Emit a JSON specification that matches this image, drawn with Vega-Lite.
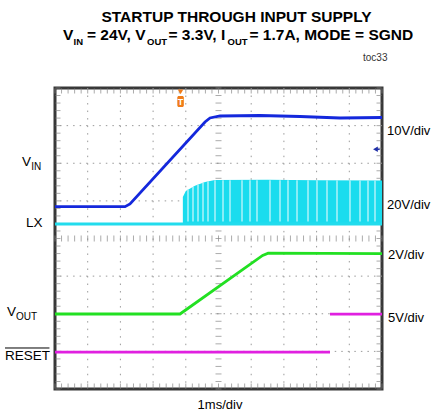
{
 "$schema": "https://vega.github.io/schema/vega-lite/v6.json",
 "width": 327, "height": 301,
 "autosize": {"type": "none"},
 "padding": {"left": 55, "top": 88, "right": 49, "bottom": 29},
 "background": "white",
 "config": {"view": {"stroke": "#383838", "strokeWidth": 3}, "axis": {"disable": true}, "font": "Liberation Sans"},
 "datasets": {
  "gx": [{"v":1},{"v":2},{"v":3},{"v":4},{"v":6},{"v":7},{"v":8},{"v":9}],
  "gy": [{"v":1},{"v":2},{"v":3},{"v":5},{"v":6},{"v":7}],
  "xt": [{"p":0},{"p":0.2},{"p":0.4},{"p":0.6},{"p":0.8},{"p":1},{"p":1.2},{"p":1.4},{"p":1.6},{"p":1.8},{"p":2},{"p":2.2},{"p":2.4},{"p":2.6},{"p":2.8},{"p":3},{"p":3.2},{"p":3.4},{"p":3.6},{"p":3.8},{"p":4},{"p":4.2},{"p":4.4},{"p":4.6},{"p":4.8},{"p":5},{"p":5.2},{"p":5.4},{"p":5.6},{"p":5.8},{"p":6},{"p":6.2},{"p":6.4},{"p":6.6},{"p":6.8},{"p":7},{"p":7.2},{"p":7.4},{"p":7.6},{"p":7.8},{"p":8},{"p":8.2},{"p":8.4},{"p":8.6},{"p":8.8},{"p":9},{"p":9.2},{"p":9.4},{"p":9.6},{"p":9.8},{"p":10}],
  "yt": [{"p":0},{"p":0.2},{"p":0.4},{"p":0.6},{"p":0.8},{"p":1},{"p":1.2},{"p":1.4},{"p":1.6},{"p":1.8},{"p":2},{"p":2.2},{"p":2.4},{"p":2.6},{"p":2.8},{"p":3},{"p":3.2},{"p":3.4},{"p":3.6},{"p":3.8},{"p":4},{"p":4.2},{"p":4.4},{"p":4.6},{"p":4.8},{"p":5},{"p":5.2},{"p":5.4},{"p":5.6},{"p":5.8},{"p":6},{"p":6.2},{"p":6.4},{"p":6.6},{"p":6.8},{"p":7},{"p":7.2},{"p":7.4},{"p":7.6},{"p":7.8},{"p":8}],
  "env": [{"x":3.91,"y":5.10},{"x":4.0,"y":5.26},{"x":4.28,"y":5.40},{"x":4.59,"y":5.50},{"x":4.89,"y":5.555},{"x":6.5,"y":5.56},{"x":8.0,"y":5.55},{"x":10,"y":5.54}],
  "stripes": [{"x":4.067,"y":5.30},{"x":4.220,"y":5.37},{"x":4.373,"y":5.43},{"x":4.526,"y":5.48},{"x":4.679,"y":5.52},{"x":4.893,"y":5.55},{"x":5.138,"y":5.55},{"x":5.352,"y":5.55},{"x":5.719,"y":5.55},{"x":5.963,"y":5.55},{"x":6.177,"y":5.55},{"x":6.575,"y":5.55},{"x":6.881,"y":5.55},{"x":7.125,"y":5.55},{"x":7.401,"y":5.55},{"x":7.737,"y":5.55},{"x":8.012,"y":5.55},{"x":8.318,"y":5.55},{"x":8.624,"y":5.55},{"x":9.021,"y":5.55},{"x":9.327,"y":5.55},{"x":9.572,"y":5.55},{"x":9.786,"y":5.55}],
  "tr": [
   {"ch":"VIN","x":0,"y":4.845},{"ch":"VIN","x":2.141,"y":4.845},{"ch":"VIN","x":2.294,"y":4.917},{"ch":"VIN","x":4.587,"y":7.096},{"ch":"VIN","x":4.740,"y":7.203},{"ch":"VIN","x":5.046,"y":7.256},{"ch":"VIN","x":6.269,"y":7.269},{"ch":"VIN","x":7.492,"y":7.243},{"ch":"VIN","x":8.716,"y":7.203},{"ch":"VIN","x":10,"y":7.216},
   {"ch":"LX","x":0,"y":4.385},{"ch":"LX","x":10,"y":4.385},
   {"ch":"VOUT","x":0,"y":1.993},{"ch":"VOUT","x":3.823,"y":1.993},{"ch":"VOUT","x":6.35,"y":3.55},{"ch":"VOUT","x":6.52,"y":3.61},{"ch":"VOUT","x":10,"y":3.60},
   {"ch":"RLO","x":0,"y":0.98},{"ch":"RLO","x":8.41,"y":0.98},
   {"ch":"RHI","x":8.41,"y":1.99},{"ch":"RHI","x":10,"y":1.99}
  ]
 },
 "layer": [
  {"data": {"name": "gx"}, "mark": {"type": "rule", "color": "#9a9a9a", "strokeDash": [1.5, 6.02], "strokeWidth": 1},
   "encoding": {"x": {"field": "v", "type": "quantitative", "scale": {"domain": [0, 10], "nice": false, "zero": false}, "axis": null}}},
  {"data": {"name": "gy"}, "mark": {"type": "rule", "color": "#9a9a9a", "strokeDash": [1.5, 5.04], "strokeWidth": 1},
   "encoding": {"y": {"field": "v", "type": "quantitative", "scale": {"domain": [0, 8], "nice": false, "zero": false}, "axis": null}}},
  {"mark": {"type": "rule", "color": "#8a8a8a", "strokeDash": [3, 3], "strokeWidth": 1},
   "encoding": {"x": {"datum": 5, "type": "quantitative"}}},
  {"mark": {"type": "rule", "color": "#8a8a8a", "strokeDash": [3, 3], "strokeWidth": 1},
   "encoding": {"y": {"datum": 4, "type": "quantitative"}}},
  {"data": {"name": "xt"}, "mark": {"type": "tick", "orient": "vertical", "size": 6, "thickness": 1, "color": "#888"},
   "encoding": {"x": {"field": "p", "type": "quantitative"}, "y": {"datum": 4, "type": "quantitative"}}},
  {"data": {"name": "xt"}, "mark": {"type": "tick", "orient": "vertical", "size": 5, "thickness": 1, "color": "#888", "yOffset": 3},
   "encoding": {"x": {"field": "p", "type": "quantitative"}, "y": {"datum": 8, "type": "quantitative"}}},
  {"data": {"name": "xt"}, "mark": {"type": "tick", "orient": "vertical", "size": 5, "thickness": 1, "color": "#888", "yOffset": -3},
   "encoding": {"x": {"field": "p", "type": "quantitative"}, "y": {"datum": 0, "type": "quantitative"}}},
  {"data": {"name": "yt"}, "mark": {"type": "tick", "orient": "horizontal", "size": 6, "thickness": 1, "color": "#888"},
   "encoding": {"y": {"field": "p", "type": "quantitative"}, "x": {"datum": 5, "type": "quantitative"}}},
  {"data": {"name": "yt"}, "mark": {"type": "tick", "orient": "horizontal", "size": 5, "thickness": 1, "color": "#888", "xOffset": 3},
   "encoding": {"y": {"field": "p", "type": "quantitative"}, "x": {"datum": 0, "type": "quantitative"}}},
  {"data": {"name": "yt"}, "mark": {"type": "tick", "orient": "horizontal", "size": 5, "thickness": 1, "color": "#888", "xOffset": -3},
   "encoding": {"y": {"field": "p", "type": "quantitative"}, "x": {"datum": 10, "type": "quantitative"}}},
  {"data": {"name": "env"}, "mark": {"type": "area", "color": "#1adcee", "opacity": 1},
   "encoding": {"x": {"field": "x", "type": "quantitative"}, "y": {"field": "y", "type": "quantitative"}, "y2": {"datum": 4.36}}},
  {"data": {"name": "stripes"}, "mark": {"type": "rule", "color": "#a6f1f8", "strokeWidth": 1.6},
   "encoding": {"x": {"field": "x", "type": "quantitative"}, "y": {"field": "y", "type": "quantitative"}, "y2": {"datum": 4.45}}},
  {"data": {"name": "tr"}, "mark": {"type": "line", "strokeWidth": 2.8, "interpolate": "linear"},
   "encoding": {"x": {"field": "x", "type": "quantitative"}, "y": {"field": "y", "type": "quantitative"},
    "color": {"field": "ch", "type": "nominal", "scale": {"domain": ["VIN", "LX", "VOUT", "RLO", "RHI"], "range": ["#1428dc", "#22dced", "#22e022", "#e020e0", "#e020e0"]}, "legend": null}}},
  {"mark": {"type": "rule", "color": "#f070f0", "strokeWidth": 1},
   "encoding": {"x": {"datum": 8.41, "type": "quantitative"}, "y": {"datum": 0.98, "type": "quantitative"}, "y2": {"datum": 1.99}}},
  {"data": {"values": [{"x": 3.74, "x2": 3.94, "y": 7.495, "y2": 7.787}]},
   "mark": {"type": "rect", "color": "#f07d1a", "cornerRadius": 1.5},
   "encoding": {"x": {"field": "x", "type": "quantitative"}, "x2": {"field": "x2"}, "y": {"field": "y", "type": "quantitative"}, "y2": {"field": "y2"}}},
  {"data": {"values": [{"x": 3.84, "y": 7.9}]},
   "mark": {"type": "point", "shape": "triangle-down", "filled": true, "size": 30, "color": "#f07d1a", "opacity": 1},
   "encoding": {"x": {"field": "x", "type": "quantitative"}, "y": {"field": "y", "type": "quantitative"}}},
  {"data": {"values": [{"x": 3.84, "y": 7.64, "t": "T"}]},
   "mark": {"type": "text", "color": "white", "fontSize": 9, "fontWeight": "bold", "baseline": "middle", "align": "center"},
   "encoding": {"x": {"field": "x", "type": "quantitative"}, "y": {"field": "y", "type": "quantitative"}, "text": {"field": "t"}}},
  {"data": {"values": [{"x": 9.8, "y": 6.37}]},
   "mark": {"type": "point", "shape": "triangle-left", "filled": true, "size": 30, "color": "#2030a8", "opacity": 1},
   "encoding": {"x": {"field": "x", "type": "quantitative"}, "y": {"field": "y", "type": "quantitative"}}},
  {"data": {"values": [{"x": 9.8, "x2": 9.93, "y": 6.37}]},
   "mark": {"type": "rule", "color": "#2030a8", "strokeWidth": 1.5},
   "encoding": {"x": {"field": "x", "type": "quantitative"}, "x2": {"field": "x2"}, "y": {"field": "y", "type": "quantitative"}}},
  {"data": {"values": [{"t": "STARTUP THROUGH INPUT SUPPLY", "x": 5.55, "y": 9.90}]},
   "mark": {"type": "text", "fontSize": 15.5, "fontWeight": "bold", "align": "center", "baseline": "middle", "color": "black"},
   "encoding": {"x": {"field": "x", "type": "quantitative"}, "y": {"field": "y", "type": "quantitative"}, "text": {"field": "t"}}},
  {"data": {"values": [{"t": "V", "x": 0.245, "y": 9.268}, {"t": "= 24V, V", "x": 0.979, "y": 9.268}, {"t": "= 3.3V, I", "x": 3.471, "y": 9.268}, {"t": "= 1.7A, MODE = SGND", "x": 5.948, "y": 9.268}]},
   "mark": {"type": "text", "fontSize": 15.5, "fontWeight": "bold", "align": "left", "baseline": "alphabetic", "color": "black"},
   "encoding": {"x": {"field": "x", "type": "quantitative"}, "y": {"field": "y", "type": "quantitative"}, "text": {"field": "t"}}},
  {"data": {"values": [{"t": "IN", "x": 0.566, "y": 9.143}, {"t": "OUT", "x": 2.814, "y": 9.143}, {"t": "OUT", "x": 5.275, "y": 9.143}]},
   "mark": {"type": "text", "fontSize": 9.5, "fontWeight": "bold", "align": "left", "baseline": "alphabetic", "color": "black"},
   "encoding": {"x": {"field": "x", "type": "quantitative"}, "y": {"field": "y", "type": "quantitative"}, "text": {"field": "t"}}},
  {"data": {"values": [{"t": "toc33", "x": 9.42, "y": 8.72}]},
   "mark": {"type": "text", "fontSize": 10, "align": "left", "baseline": "alphabetic", "color": "#333"},
   "encoding": {"x": {"field": "x", "type": "quantitative"}, "y": {"field": "y", "type": "quantitative"}, "text": {"field": "t"}}},
  {"data": {"values": [{"t": "V", "x": -1.009, "y": 5.916}, {"t": "LX", "x": -0.887, "y": 4.311}, {"t": "V", "x": -1.468, "y": 1.927}, {"t": "RESET", "x": -1.529, "y": 0.771}]},
   "mark": {"type": "text", "fontSize": 13.5, "align": "left", "baseline": "alphabetic", "color": "black"},
   "encoding": {"x": {"field": "x", "type": "quantitative"}, "y": {"field": "y", "type": "quantitative"}, "text": {"field": "t"}}},
  {"data": {"values": [{"t": "IN", "x": -0.73, "y": 5.82}, {"t": "OUT", "x": -1.19, "y": 1.834}]},
   "mark": {"type": "text", "fontSize": 10, "align": "left", "baseline": "alphabetic", "color": "black"},
   "encoding": {"x": {"field": "x", "type": "quantitative"}, "y": {"field": "y", "type": "quantitative"}, "text": {"field": "t"}}},
  {"data": {"values": [{"x": -1.529, "x2": -0.17, "y": 1.09}]},
   "mark": {"type": "rule", "color": "black", "strokeWidth": 1},
   "encoding": {"x": {"field": "x", "type": "quantitative"}, "x2": {"field": "x2"}, "y": {"field": "y", "type": "quantitative"}}},
  {"data": {"values": [{"t": "10V/div", "x": 10.153, "y": 6.857}, {"t": "20V/div", "x": 10.153, "y": 4.89}, {"t": "2V/div", "x": 10.183, "y": 3.561}, {"t": "5V/div", "x": 10.183, "y": 1.887}]},
   "mark": {"type": "text", "fontSize": 13, "align": "left", "baseline": "middle", "color": "black"},
   "encoding": {"x": {"field": "x", "type": "quantitative"}, "y": {"field": "y", "type": "quantitative"}, "text": {"field": "t"}}},
  {"data": {"values": [{"t": "1ms/div", "x": 5.046, "y": -0.425}]},
   "mark": {"type": "text", "fontSize": 13, "align": "center", "baseline": "middle", "color": "black"},
   "encoding": {"x": {"field": "x", "type": "quantitative"}, "y": {"field": "y", "type": "quantitative"}, "text": {"field": "t"}}}
 ]
}
